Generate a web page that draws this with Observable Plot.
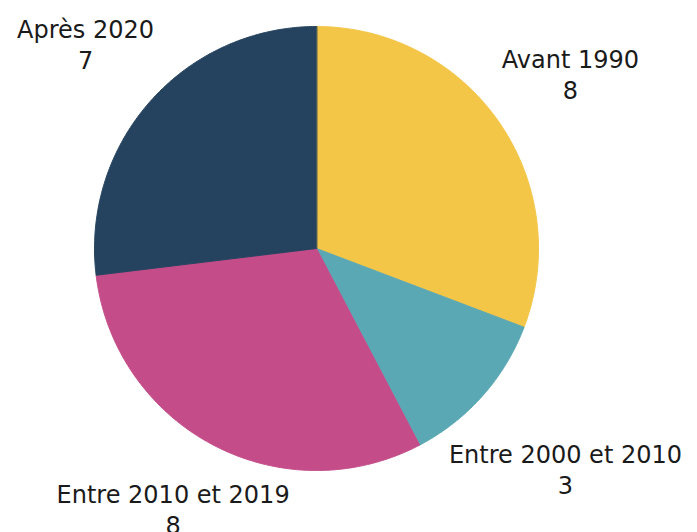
<!DOCTYPE html>
<html>
<head>
<meta charset="utf-8">
<script src="https://cdn.jsdelivr.net/npm/d3@7"></script>
<script src="https://cdn.jsdelivr.net/npm/@observablehq/plot@0.6"></script>
<style>
  html, body { margin: 0; padding: 0; background: #ffffff; }
</style>
</head>
<body>
<div id="chart"></div>
<script>
// ---- data ----
const categories = ["Avant 1990", "Entre 2000 et 2010", "Entre 2010 et 2019", "Après 2020"];
const values = [8, 3, 8, 7];
const colors = ["#F4C647", "#5BA8B5", "#C44D89", "#25435F"];

// ---- layout ----
const W = 697, H = 532;
const cx = 316, cy = 248, R = 222;
const fontFamily = "DejaVu Sans";
const fontSize = 24;
const lineH = 31;

const table = categories.map((c, i) => ({category: c, value: values[i]}));
const arcs = d3.pie().sort(null).value(d => d.value).startAngle(0).endAngle(2 * Math.PI)(table);

// slice outlines in unit (data) coordinates
const pts = [];
for (const a of arcs) {
  const cat = a.data.category;
  pts.push({cat, x: 0, y: 0});
  const n = Math.max(2, Math.ceil((a.endAngle - a.startAngle) / (Math.PI / 360)));
  for (let k = 0; k <= n; k++) {
    const t = a.startAngle + (a.endAngle - a.startAngle) * k / n;
    pts.push({cat, x: Math.sin(t), y: Math.cos(t)});
  }
}

// labels: placed along mid-angle, pushed out to clear the pie
const ctx = document.createElement("canvas").getContext("2d");
ctx.font = `${fontSize}px "${fontFamily}"`;
const labels = arcs.map(a => {
  const m = (a.startAngle + a.endAngle) / 2;
  const t1 = a.data.category, t2 = String(a.data.value);
  const w = Math.max(ctx.measureText(t1).width, ctx.measureText(t2).width);
  const h = 2 * lineH;
  let r = 1.39 * R, px, py;
  for (let it = 0; it < 400; it++) {
    px = cx + r * Math.sin(m);
    py = cy - r * Math.cos(m);
    const nx = Math.max(px - w / 2, Math.min(cx, px + w / 2));
    const ny = Math.max(py - h / 2, Math.min(cy, py + h / 2));
    if (Math.hypot(nx - cx, ny - cy) >= R + 9) break;
    r += 1;
  }
  py = Math.min(py, H - 24);
  return {text: t1 + "\n" + t2, x: (px - cx) / R, y: (cy - py) / R};
});

const chart = Plot.plot({
  width: W,
  height: H,
  marginLeft: cx - R,
  marginRight: W - cx - R,
  marginTop: cy - R,
  marginBottom: H - cy - R,
  x: {domain: [-1, 1], axis: null},
  y: {domain: [-1, 1], axis: null},
  color: {domain: categories, range: colors},
  style: {fontFamily, background: "#ffffff", color: "#1a1a1a"},
  marks: [
    Plot.line(pts, {x: "x", y: "y", z: "cat", fill: "cat", stroke: "cat", strokeWidth: 1, curve: "linear-closed"}),
    Plot.text(labels, {x: "x", y: "y", text: "text", fontSize, lineHeight: lineH / fontSize, fill: "#1a1a1a"})
  ]
});
document.getElementById("chart").appendChild(chart);
</script>
</body>
</html>
